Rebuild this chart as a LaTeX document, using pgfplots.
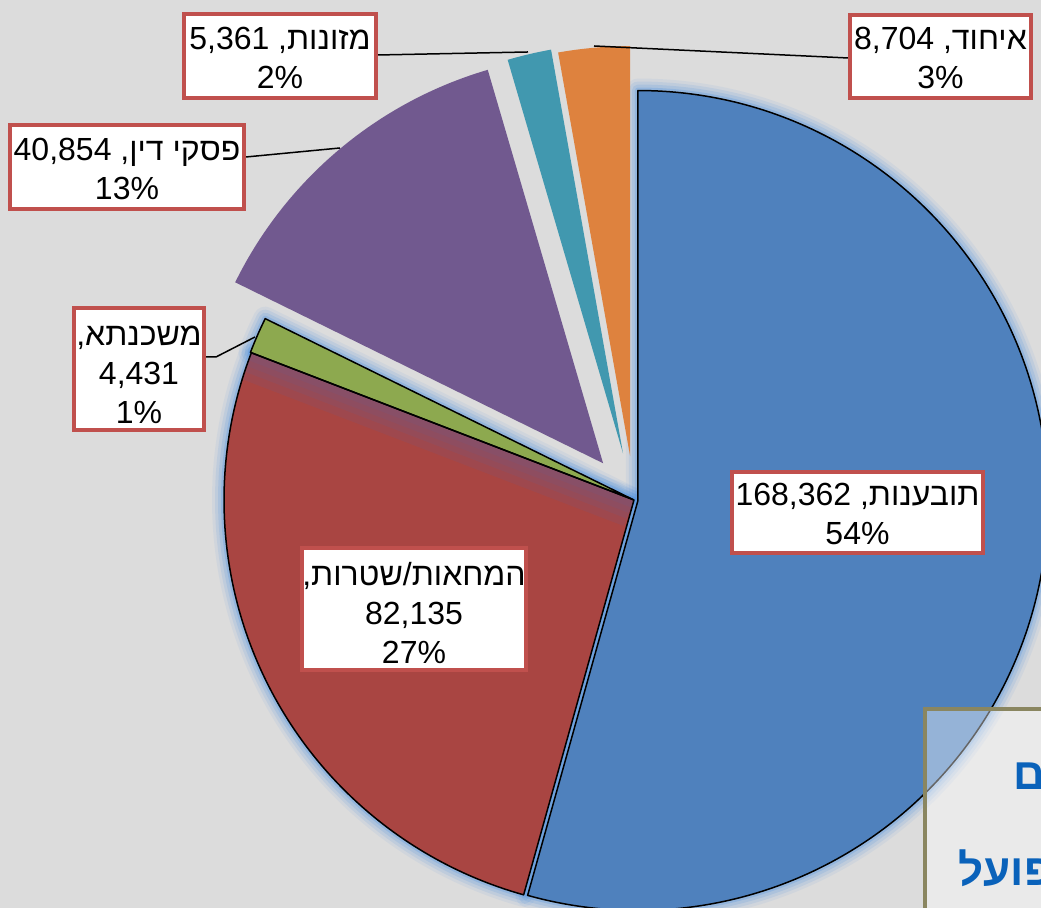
\documentclass[border=0pt]{standalone}
\usepackage{pgfplots}
\pgfplotsset{compat=1.18}
\usepackage{pgfplotstable}
\usepackage{fontspec}
\setmainfont{Liberation Sans}
\newfontfamily\hebfont[Script=Hebrew]{Liberation Sans}
\TeXXeTstate=1
\definecolor{bg}{HTML}{DCDCDC}
\definecolor{sBlue}{HTML}{4F81BD}
\definecolor{sRed}{HTML}{A94542}
\definecolor{sGreen}{HTML}{8DA94F}
\definecolor{sPurple}{HTML}{71598F}
\definecolor{sTeal}{HTML}{4198AF}
\definecolor{sOrange}{HTML}{DE823E}
\definecolor{boxRed}{HTML}{C0504D}
\definecolor{glow}{HTML}{4A8FE2}
\definecolor{boxOlive}{HTML}{8A8660}
\definecolor{titleBlue}{HTML}{0A62BA}
\definecolor{tint}{HTML}{6A5C8E}
\tikzset{lab/.style={draw=boxRed, line width=2pt, fill=white, align=center,
    font=\fontsize{16}{19.5}\selectfont, inner sep=0pt, text=black}}

% values and explode distance (px) in clockwise order from 12 o'clock
\pgfplotstableread{
value explode
168362 4
82135 0
4431 1
40854 48
5361 48
8704 44
}\piedata

\def\pCx{634}\def\pCy{408}\def\pR{205pt}
\newcommand\addtot[1]{\pgfplotstablegetelem{#1}{value}\of\piedata\xdef\pTot{\fpeval{\pTot+\pgfplotsretval}}}
\newcommand\prepslice[2]{%
  \pgfplotstablegetelem{#1}{value}\of\piedata\let\pSv\pgfplotsretval
  \pgfplotstablegetelem{#1}{explode}\of\piedata\let\pSx\pgfplotsretval
  \edef\pEn{\fpeval{\pCum+360*\pSv/\pTot}}%
  \edef\pMd{\fpeval{(\pCum+\pEn)/2}}%
  \edef\pSa{\fpeval{round(90-\pCum,4)}}%
  \edef\pEa{\fpeval{round(90-\pEn,4)}}%
  \edef\pAx{\fpeval{round(\pCx+\pSx*sind(\pMd),3)}}%
  \edef\pAy{\fpeval{round(\pCy+\pSx*cosd(\pMd),3)}}%
  \expandafter\xdef\csname slc#2\endcsname{(axis cs:\pAx,\pAy) -- ++(\pSa:\pR) arc[start angle=\pSa, end angle=\pEa, radius=\pR] -- cycle}%
  \expandafter\xdef\csname apx#2\endcsname{(axis cs:\pAx,\pAy)}%
  \expandafter\xdef\csname ea#2\endcsname{\pEa}%
  \xdef\pCum{\pEn}%
}
\newcommand\glowall[2]{%
  \draw[glow, line width=#1, opacity=#2, line join=round] \slcA;
  \draw[glow, line width=#1, opacity=#2, line join=round] \slcB;
  \draw[glow, line width=#1, opacity=#2, line join=round] \slcC;
}

\begin{document}
\begin{tikzpicture}
\useasboundingbox (0,0) rectangle (520.5pt,454pt);
\clip (0,0) rectangle (520.5pt,454pt);
\fill[bg] (0,0) rectangle (520.5pt,454pt);
\gdef\pTot{0}
\addtot{0}\addtot{1}\addtot{2}\addtot{3}\addtot{4}\addtot{5}
\gdef\pCum{0}
\prepslice{0}{A}\prepslice{1}{B}\prepslice{2}{C}\prepslice{3}{D}\prepslice{4}{E}\prepslice{5}{F}
\begin{axis}[
  width=520.5pt, height=454pt, scale only axis,
  xmin=0, xmax=1041, ymin=0, ymax=908,
  hide axis, clip=false,
]
% glow
\glowall{12pt}{0.08}
\glowall{9pt}{0.12}
\glowall{6pt}{0.16}
\glowall{3pt}{0.25}
% slices
\fill[sBlue] \slcA;
\fill[sRed] \slcB;
\fill[sGreen] \slcC;
\fill[sPurple] \slcD;
\fill[sTeal] \slcE;
\fill[sOrange] \slcF;
% shadow tint on the red slice near the green one
\fill[tint, opacity=0.16] \apxB -- ++(\eaB:\pR) -- ++(\eaB+90:4pt) -- ++(\eaB+180:\pR) -- cycle;
\fill[tint, opacity=0.16] \apxB -- ++(\eaB:\pR) -- ++(\eaB+90:7pt) -- ++(\eaB+180:\pR) -- cycle;
\fill[tint, opacity=0.16] \apxB -- ++(\eaB:\pR) -- ++(\eaB+90:10pt) -- ++(\eaB+180:\pR) -- cycle;
\fill[tint, opacity=0.16] \apxB -- ++(\eaB:\pR) -- ++(\eaB+90:14pt) -- ++(\eaB+180:\pR) -- cycle;
% outlines
\draw[black, line width=0.75pt, line join=round] \slcA;
\draw[black, line width=0.75pt, line join=round] \slcB;
\draw[black, line width=0.75pt, line join=round] \slcC;
% leader lines
\addplot[black, line width=0.75pt, mark=none] coordinates {(594,862) (848,850)};
\addplot[black, line width=0.75pt, mark=none] coordinates {(378,853) (528,856)};
\addplot[black, line width=0.75pt, mark=none] coordinates {(246,751) (340,760)};
\addplot[black, line width=0.75pt, mark=none] coordinates {(206,551) (216,551) (255,571)};
% labels
\node[lab, minimum width=90.5pt, minimum height=41.5pt] at (axis cs:940.5,851.5)
  {\rule{0pt}{13pt}\beginR{\hebfont איחוד},\ \beginL8,704\endL\endR\\3\%};
\node[lab, minimum width=96pt, minimum height=42pt] at (axis cs:280,852)
  {\rule{0pt}{13pt}\beginR{\hebfont מזונות},\ \beginL5,361\endL\endR\\2\%};
\node[lab, minimum width=117pt, minimum height=42pt] at (axis cs:127,741)
  {\rule{0pt}{13pt}\beginR{\hebfont פסקי דין},\ \beginL40,854\endL\endR\\13\%};
\node[lab, minimum width=65pt, minimum height=61pt] at (axis cs:139,539)
  {\rule{0pt}{16pt}\beginR{\hebfont משכנתא},\endR\\4,431\\1\%};
\node[lab, minimum width=125.5pt, minimum height=40.5pt] at (axis cs:857.5,395.5)
  {\rule{0pt}{13pt}\beginR{\hebfont תובענות},\ \beginL168,362\endL\endR\\54\%};
\node[lab, minimum width=112pt, minimum height=61pt] at (axis cs:414,299)
  {\rule{0pt}{16pt}\beginR{\hebfont המחאות/שטרות},\endR\\82,135\\27\%};
% title box at the lower right
\fill[white, opacity=0.4] (axis cs:925,199) rectangle (axis cs:1120,-40);
\draw[boxOlive, line width=2pt] (axis cs:925,199) rectangle (axis cs:1120,-40);
\node[anchor=base west, inner sep=0pt, text=titleBlue,
  font=\hebfont\bfseries\fontsize{22}{26}\selectfont] at (axis cs:1013,118) {\beginR תיקים\endR};
\node[anchor=base west, inner sep=0pt, text=titleBlue,
  font=\hebfont\bfseries\fontsize{22}{26}\selectfont] at (axis cs:958,22) {\beginR בפועל\endR};
\end{axis}
\end{tikzpicture}
\end{document}
